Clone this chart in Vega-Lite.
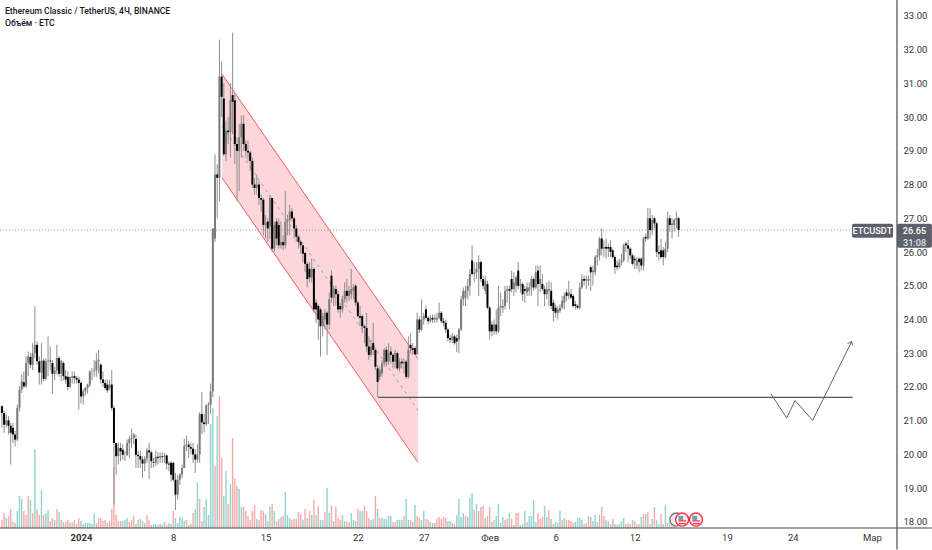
{"$schema":"https://vega.github.io/schema/vega-lite/v6.json","width":897,"height":528,"padding":{"left":0,"top":0,"right":35,"bottom":22},"autosize":"none","background":"#ffffff","config":{"view":{"stroke":null},"font":"Roboto","axisY":{"grid":false,"ticks":false,"domain":false,"labelColor":"#333333","labelFontSize":9.5,"labelPadding":6,"labelOverlap":false,"title":null}},
"datasets":{
"candles":[
{"t":-36,"o":21.43,"h":21.45,"l":20.79,"c":21.23},{"t":-35,"o":21.23,"h":21.3,"l":20.64,"c":20.88},{"t":-34,"o":20.88,"h":21.18,"l":20.79,"c":21.01},{"t":-33,"o":21.01,"h":21.13,"l":20.59,"c":20.85},{"t":-32,"o":20.85,"h":20.93,"l":19.7,"c":20.64},{"t":-31,"o":20.79,"h":20.93,"l":20.34,"c":20.59},{"t":-30,"o":20.59,"h":20.7,"l":20.24,"c":20.44},{"t":-29,"o":20.44,"h":21.48,"l":20.39,"c":21.38},{"t":-28,"o":21.38,"h":22.02,"l":21.28,"c":21.92},{"t":-27,"o":21.92,"h":22.37,"l":21.82,"c":22.17},{"t":-26,"o":22.14,"h":22.46,"l":21.97,"c":22.02},{"t":-25,"o":22.02,"h":22.91,"l":21.97,"c":22.71},{"t":-24,"o":22.71,"h":23.05,"l":22.32,"c":22.91},{"t":-23,"o":22.89,"h":23.0,"l":22.56,"c":22.66},{"t":-22,"o":22.66,"h":23.3,"l":22.5,"c":23.0},{"t":-21,"o":23.0,"h":24.39,"l":22.85,"c":23.25},{"t":-20,"o":23.25,"h":23.35,"l":22.66,"c":22.76},{"t":-19,"o":22.76,"h":22.91,"l":22.07,"c":22.43},{"t":-18,"o":22.43,"h":23.3,"l":22.07,"c":22.78},{"t":-17,"o":22.78,"h":22.85,"l":22.17,"c":22.24},{"t":-16,"o":22.24,"h":22.85,"l":22.2,"c":22.76},{"t":-15,"o":22.76,"h":23.5,"l":22.32,"c":22.78},{"t":-14,"o":22.78,"h":23.2,"l":22.5,"c":22.76},{"t":-13,"o":22.71,"h":22.8,"l":21.8,"c":22.39},{"t":-12,"o":22.39,"h":22.6,"l":22.2,"c":22.49},{"t":-11,"o":22.49,"h":23.25,"l":22.37,"c":22.86},{"t":-10,"o":22.86,"h":22.91,"l":22.3,"c":22.39},{"t":-9,"o":22.39,"h":22.8,"l":22.17,"c":22.76},{"t":-8,"o":22.71,"h":22.76,"l":22.2,"c":22.32},{"t":-7,"o":22.32,"h":22.5,"l":22.1,"c":22.22},{"t":-6,"o":22.3,"h":22.46,"l":21.9,"c":22.0},{"t":-5,"o":22.0,"h":22.3,"l":21.97,"c":22.3},{"t":-4,"o":22.27,"h":22.46,"l":22.1,"c":22.32},{"t":-3,"o":22.32,"h":22.45,"l":22.1,"c":22.27},{"t":-2,"o":22.27,"h":22.33,"l":22.1,"c":22.22},{"t":-1,"o":22.22,"h":22.3,"l":21.33,"c":22.12},{"t":0,"o":22.12,"h":22.17,"l":21.51,"c":21.72},{"t":1,"o":21.72,"h":21.95,"l":21.48,"c":21.87},{"t":2,"o":21.87,"h":22.0,"l":21.75,"c":21.97},{"t":3,"o":21.97,"h":22.1,"l":21.8,"c":22.07},{"t":4,"o":22.07,"h":22.5,"l":22.0,"c":22.46},{"t":5,"o":22.46,"h":22.56,"l":22.2,"c":22.46},{"t":6,"o":22.46,"h":22.8,"l":22.3,"c":22.49},{"t":7,"o":22.49,"h":23.0,"l":22.3,"c":22.76},{"t":8,"o":22.76,"h":23.1,"l":22.4,"c":22.81},{"t":9,"o":22.66,"h":22.71,"l":22.1,"c":22.22},{"t":10,"o":22.22,"h":22.46,"l":22.0,"c":22.12},{"t":11,"o":22.12,"h":22.22,"l":21.9,"c":21.97},{"t":12,"o":22.07,"h":22.22,"l":21.82,"c":21.9},{"t":13,"o":21.97,"h":22.22,"l":21.9,"c":22.07},{"t":14,"o":22.07,"h":22.5,"l":21.3,"c":21.38},{"t":15,"o":21.38,"h":21.45,"l":18.51,"c":20.34},{"t":16,"o":20.34,"h":20.34,"l":19.4,"c":19.95},{"t":17,"o":19.95,"h":20.34,"l":19.7,"c":20.19},{"t":18,"o":20.19,"h":20.34,"l":19.8,"c":20.09},{"t":19,"o":20.14,"h":20.3,"l":19.85,"c":19.99},{"t":20,"o":19.99,"h":20.1,"l":19.8,"c":19.99},{"t":21,"o":19.99,"h":20.44,"l":19.95,"c":20.34},{"t":22,"o":20.34,"h":20.56,"l":19.9,"c":20.46},{"t":23,"o":20.46,"h":20.76,"l":20.2,"c":20.49},{"t":24,"o":20.49,"h":20.64,"l":20.3,"c":20.59},{"t":25,"o":20.46,"h":20.59,"l":19.6,"c":19.99},{"t":26,"o":19.99,"h":20.1,"l":19.6,"c":19.95},{"t":27,"o":19.95,"h":20.1,"l":19.6,"c":19.85},{"t":28,"o":19.85,"h":19.95,"l":19.3,"c":19.73},{"t":29,"o":19.73,"h":19.95,"l":19.5,"c":19.87},{"t":30,"o":19.87,"h":20.19,"l":19.75,"c":20.12},{"t":31,"o":20.12,"h":20.34,"l":19.27,"c":20.06},{"t":32,"o":20.06,"h":20.1,"l":19.6,"c":19.8},{"t":33,"o":19.77,"h":19.9,"l":19.6,"c":19.75},{"t":34,"o":19.75,"h":20.12,"l":19.65,"c":19.93},{"t":35,"o":19.93,"h":20.07,"l":19.7,"c":19.9},{"t":36,"o":19.9,"h":20.06,"l":19.75,"c":19.95},{"t":37,"o":19.95,"h":20.07,"l":19.75,"c":19.93},{"t":38,"o":19.93,"h":20.05,"l":19.75,"c":19.97},{"t":39,"o":19.97,"h":20.0,"l":19.55,"c":19.73},{"t":40,"o":19.73,"h":19.8,"l":19.5,"c":19.7},{"t":41,"o":19.75,"h":19.8,"l":19.2,"c":19.4},{"t":42,"o":19.75,"h":19.78,"l":19.2,"c":19.25},{"t":43,"o":19.25,"h":19.45,"l":18.35,"c":18.81},{"t":44,"o":18.81,"h":19.4,"l":18.66,"c":19.25},{"t":45,"o":19.25,"h":19.45,"l":19.1,"c":19.4},{"t":46,"o":19.4,"h":19.7,"l":19.3,"c":19.6},{"t":47,"o":19.6,"h":20.46,"l":19.6,"c":20.26},{"t":48,"o":20.26,"h":20.56,"l":20.1,"c":20.29},{"t":49,"o":20.29,"h":20.4,"l":19.9,"c":20.22},{"t":50,"o":20.22,"h":20.35,"l":20.0,"c":20.17},{"t":51,"o":20.17,"h":20.34,"l":19.75,"c":20.0},{"t":52,"o":20.0,"h":20.15,"l":19.45,"c":19.85},{"t":53,"o":19.85,"h":20.3,"l":19.75,"c":20.0},{"t":54,"o":20.0,"h":21.25,"l":19.75,"c":21.2},{"t":55,"o":21.2,"h":21.85,"l":20.6,"c":20.95},{"t":56,"o":20.95,"h":21.2,"l":20.65,"c":20.9},{"t":57,"o":20.9,"h":21.5,"l":20.85,"c":21.45},{"t":58,"o":21.45,"h":21.55,"l":20.9,"c":21.47},{"t":59,"o":21.47,"h":22.1,"l":21.2,"c":21.87},{"t":60,"o":21.87,"h":26.7,"l":21.7,"c":26.7},{"t":61,"o":26.4,"h":28.9,"l":26.3,"c":28.3},{"t":62,"o":28.3,"h":28.6,"l":27.0,"c":28.2},{"t":63,"o":28.2,"h":32.3,"l":27.5,"c":31.2},{"t":64,"o":31.2,"h":31.65,"l":30.0,"c":30.6},{"t":65,"o":30.55,"h":31.0,"l":28.85,"c":28.9},{"t":66,"o":28.9,"h":29.9,"l":28.7,"c":29.6},{"t":67,"o":29.6,"h":30.0,"l":29.2,"c":29.55},{"t":68,"o":29.55,"h":31.0,"l":28.8,"c":30.5},{"t":69,"o":30.65,"h":32.5,"l":29.5,"c":30.45},{"t":70,"o":30.5,"h":30.7,"l":28.6,"c":29.2},{"t":71,"o":29.2,"h":29.4,"l":27.5,"c":29.0},{"t":72,"o":29.0,"h":29.8,"l":27.8,"c":29.4},{"t":73,"o":29.4,"h":30.05,"l":28.8,"c":29.8},{"t":74,"o":29.8,"h":30.05,"l":29.0,"c":29.2},{"t":75,"o":29.2,"h":29.3,"l":28.8,"c":29.0},{"t":76,"o":29.0,"h":29.3,"l":28.7,"c":28.95},{"t":77,"o":28.95,"h":29.0,"l":28.4,"c":28.7},{"t":78,"o":28.7,"h":28.8,"l":27.9,"c":28.0},{"t":79,"o":28.0,"h":28.2,"l":27.7,"c":27.9},{"t":80,"o":27.9,"h":28.3,"l":27.7,"c":28.0},{"t":81,"o":28.0,"h":28.1,"l":27.4,"c":27.6},{"t":82,"o":27.6,"h":27.7,"l":27.2,"c":27.55},{"t":83,"o":27.55,"h":27.6,"l":26.5,"c":26.8},{"t":84,"o":26.8,"h":27.1,"l":26.4,"c":26.85},{"t":85,"o":26.9,"h":27.0,"l":26.3,"c":26.7},{"t":86,"o":26.75,"h":27.7,"l":26.4,"c":27.6},{"t":87,"o":27.6,"h":27.6,"l":26.0,"c":26.1},{"t":88,"o":26.1,"h":26.9,"l":26.0,"c":26.8},{"t":89,"o":26.9,"h":27.0,"l":26.2,"c":26.4},{"t":90,"o":26.8,"h":27.0,"l":26.1,"c":26.2},{"t":91,"o":26.2,"h":26.9,"l":26.1,"c":26.3},{"t":92,"o":26.3,"h":26.5,"l":26.05,"c":26.2},{"t":93,"o":26.2,"h":27.8,"l":26.1,"c":26.9},{"t":94,"o":26.9,"h":27.1,"l":26.5,"c":26.95},{"t":95,"o":26.95,"h":27.4,"l":26.5,"c":27.2},{"t":96,"o":27.2,"h":27.3,"l":26.9,"c":27.0},{"t":97,"o":27.0,"h":27.05,"l":26.4,"c":26.7},{"t":98,"o":26.7,"h":26.8,"l":26.3,"c":26.45},{"t":99,"o":26.45,"h":26.5,"l":26.1,"c":26.3},{"t":100,"o":26.3,"h":26.35,"l":25.95,"c":26.2},{"t":101,"o":26.2,"h":26.2,"l":25.7,"c":25.95},{"t":102,"o":25.97,"h":26.0,"l":25.4,"c":25.65},{"t":103,"o":25.65,"h":25.7,"l":24.95,"c":25.2},{"t":104,"o":25.5,"h":25.7,"l":25.1,"c":25.25},{"t":105,"o":25.25,"h":25.8,"l":25.1,"c":25.5},{"t":106,"o":25.5,"h":25.55,"l":24.2,"c":24.3},{"t":107,"o":24.5,"h":24.6,"l":23.9,"c":24.3},{"t":108,"o":24.4,"h":24.45,"l":23.4,"c":24.0},{"t":109,"o":24.3,"h":24.35,"l":22.9,"c":23.8},{"t":110,"o":23.8,"h":24.2,"l":23.5,"c":24.1},{"t":111,"o":24.0,"h":24.3,"l":23.7,"c":24.2},{"t":112,"o":24.2,"h":24.25,"l":22.95,"c":23.85},{"t":113,"o":23.85,"h":24.8,"l":23.7,"c":24.6},{"t":114,"o":25.3,"h":25.45,"l":24.5,"c":24.65},{"t":115,"o":24.65,"h":25.0,"l":24.4,"c":24.9},{"t":116,"o":24.9,"h":25.0,"l":24.4,"c":24.75},{"t":117,"o":24.75,"h":24.85,"l":24.2,"c":24.3},{"t":118,"o":24.4,"h":24.5,"l":24.05,"c":24.3},{"t":119,"o":24.3,"h":24.7,"l":24.2,"c":24.6},{"t":120,"o":24.6,"h":25.1,"l":24.5,"c":24.85},{"t":121,"o":24.85,"h":25.2,"l":24.5,"c":24.7},{"t":122,"o":24.7,"h":25.0,"l":24.55,"c":24.85},{"t":123,"o":24.75,"h":25.5,"l":24.6,"c":24.9},{"t":124,"o":24.85,"h":25.05,"l":24.6,"c":24.95},{"t":125,"o":25.0,"h":25.05,"l":24.4,"c":24.5},{"t":126,"o":24.5,"h":24.55,"l":24.05,"c":24.1},{"t":127,"o":24.1,"h":24.4,"l":23.8,"c":24.05},{"t":128,"o":24.1,"h":24.15,"l":23.6,"c":23.8},{"t":129,"o":23.8,"h":23.85,"l":23.3,"c":23.75},{"t":130,"o":23.75,"h":24.2,"l":23.05,"c":23.2},{"t":131,"o":23.2,"h":23.5,"l":22.8,"c":22.95},{"t":132,"o":22.95,"h":23.4,"l":22.9,"c":23.2},{"t":133,"o":23.3,"h":23.9,"l":22.95,"c":23.1},{"t":134,"o":23.1,"h":23.15,"l":22.5,"c":22.6},{"t":135,"o":22.55,"h":22.65,"l":21.7,"c":22.15},{"t":136,"o":22.3,"h":22.6,"l":22.2,"c":22.5},{"t":137,"o":22.4,"h":22.8,"l":22.3,"c":22.7},{"t":138,"o":22.7,"h":23.15,"l":22.6,"c":23.1},{"t":139,"o":23.1,"h":23.2,"l":22.6,"c":22.75},{"t":140,"o":22.75,"h":23.3,"l":22.65,"c":23.0},{"t":141,"o":23.05,"h":23.2,"l":22.7,"c":22.95},{"t":142,"o":22.95,"h":23.0,"l":22.55,"c":22.75},{"t":143,"o":22.75,"h":23.1,"l":22.55,"c":23.0},{"t":144,"o":23.0,"h":23.05,"l":22.5,"c":22.55},{"t":145,"o":22.55,"h":22.85,"l":22.45,"c":22.75},{"t":146,"o":22.75,"h":22.85,"l":22.55,"c":22.7},{"t":147,"o":22.7,"h":22.85,"l":22.4,"c":22.75},{"t":148,"o":22.75,"h":22.8,"l":22.25,"c":22.3},{"t":149,"o":22.3,"h":23.5,"l":22.25,"c":23.1},{"t":150,"o":23.25,"h":23.6,"l":23.0,"c":23.15},{"t":151,"o":23.15,"h":23.3,"l":22.95,"c":23.1},{"t":152,"o":23.15,"h":23.2,"l":22.95,"c":22.97},{"t":153,"o":22.97,"h":24.2,"l":22.95,"c":24.0},{"t":154,"o":24.0,"h":24.1,"l":23.6,"c":23.7},{"t":155,"o":23.7,"h":24.6,"l":23.65,"c":24.0},{"t":156,"o":24.0,"h":24.2,"l":23.85,"c":24.1},{"t":157,"o":24.3,"h":24.4,"l":24.0,"c":24.05},{"t":158,"o":24.05,"h":24.1,"l":23.85,"c":23.95},{"t":159,"o":23.95,"h":24.15,"l":23.9,"c":24.05},{"t":160,"o":24.05,"h":24.15,"l":23.9,"c":24.0},{"t":161,"o":24.0,"h":24.15,"l":23.9,"c":24.05},{"t":162,"o":24.0,"h":24.2,"l":23.9,"c":24.05},{"t":163,"o":24.05,"h":24.5,"l":24.0,"c":24.2},{"t":164,"o":24.2,"h":24.25,"l":23.9,"c":23.95},{"t":165,"o":23.95,"h":24.05,"l":23.8,"c":23.9},{"t":166,"o":23.9,"h":24.0,"l":23.6,"c":23.7},{"t":167,"o":23.7,"h":23.75,"l":23.35,"c":23.45},{"t":168,"o":23.45,"h":23.55,"l":23.3,"c":23.4},{"t":169,"o":23.4,"h":23.6,"l":23.3,"c":23.5},{"t":170,"o":23.5,"h":23.55,"l":23.25,"c":23.3},{"t":171,"o":23.45,"h":23.55,"l":23.03,"c":23.35},{"t":172,"o":23.4,"h":23.75,"l":23.0,"c":23.7},{"t":173,"o":23.7,"h":24.7,"l":23.65,"c":24.6},{"t":174,"o":24.6,"h":24.95,"l":24.4,"c":24.85},{"t":175,"o":24.65,"h":25.0,"l":24.4,"c":24.85},{"t":176,"o":24.85,"h":25.2,"l":24.6,"c":25.0},{"t":177,"o":25.0,"h":25.5,"l":24.7,"c":25.35},{"t":178,"o":25.75,"h":26.2,"l":25.3,"c":25.35},{"t":179,"o":25.35,"h":25.7,"l":25.1,"c":25.4},{"t":180,"o":25.4,"h":25.7,"l":25.2,"c":25.5},{"t":181,"o":25.5,"h":25.9,"l":24.7,"c":25.7},{"t":182,"o":25.7,"h":25.75,"l":25.1,"c":25.2},{"t":183,"o":25.2,"h":25.3,"l":24.9,"c":25.0},{"t":184,"o":24.85,"h":25.3,"l":24.75,"c":25.15},{"t":185,"o":25.05,"h":25.15,"l":24.3,"c":24.35},{"t":186,"o":24.35,"h":24.4,"l":23.4,"c":23.65},{"t":187,"o":23.85,"h":23.95,"l":23.5,"c":23.65},{"t":188,"o":23.65,"h":24.0,"l":23.55,"c":23.85},{"t":189,"o":23.85,"h":24.3,"l":23.55,"c":23.65},{"t":190,"o":23.65,"h":25.0,"l":23.6,"c":24.35},{"t":191,"o":24.35,"h":24.8,"l":24.1,"c":24.4},{"t":192,"o":24.35,"h":24.6,"l":24.2,"c":24.4},{"t":193,"o":24.4,"h":25.0,"l":24.3,"c":24.85},{"t":194,"o":24.85,"h":25.0,"l":24.5,"c":24.9},{"t":195,"o":24.9,"h":25.0,"l":24.3,"c":24.85},{"t":196,"o":25.2,"h":25.45,"l":24.8,"c":24.9},{"t":197,"o":24.9,"h":25.4,"l":24.7,"c":25.1},{"t":198,"o":25.0,"h":25.3,"l":24.8,"c":25.25},{"t":199,"o":25.45,"h":25.7,"l":24.9,"c":25.0},{"t":200,"o":25.0,"h":25.2,"l":24.8,"c":25.05},{"t":201,"o":25.05,"h":25.1,"l":24.55,"c":24.75},{"t":202,"o":24.9,"h":25.0,"l":24.5,"c":24.85},{"t":203,"o":24.8,"h":25.1,"l":24.7,"c":24.95},{"t":204,"o":24.85,"h":25.1,"l":24.7,"c":24.95},{"t":205,"o":24.95,"h":25.3,"l":24.7,"c":25.2},{"t":206,"o":25.2,"h":25.25,"l":24.85,"c":24.95},{"t":207,"o":24.95,"h":25.6,"l":24.9,"c":25.4},{"t":208,"o":25.45,"h":25.6,"l":24.4,"c":25.05},{"t":209,"o":25.05,"h":25.6,"l":24.8,"c":25.2},{"t":210,"o":25.05,"h":25.35,"l":24.85,"c":24.9},{"t":211,"o":24.9,"h":25.0,"l":24.4,"c":24.75},{"t":212,"o":24.75,"h":25.1,"l":24.6,"c":24.9},{"t":213,"o":24.85,"h":25.15,"l":24.4,"c":24.9},{"t":214,"o":24.85,"h":25.1,"l":24.3,"c":24.4},{"t":215,"o":24.5,"h":24.6,"l":23.95,"c":24.25},{"t":216,"o":24.35,"h":24.45,"l":24.05,"c":24.2},{"t":217,"o":24.2,"h":24.4,"l":24.0,"c":24.3},{"t":218,"o":24.25,"h":24.45,"l":24.2,"c":24.35},{"t":219,"o":24.35,"h":24.7,"l":24.3,"c":24.55},{"t":220,"o":24.5,"h":24.8,"l":24.3,"c":24.7},{"t":221,"o":24.8,"h":24.9,"l":24.55,"c":24.7},{"t":222,"o":24.7,"h":25.15,"l":24.6,"c":24.8},{"t":223,"o":24.75,"h":24.9,"l":24.6,"c":24.65},{"t":224,"o":24.7,"h":24.75,"l":24.35,"c":24.4},{"t":225,"o":24.45,"h":24.55,"l":24.3,"c":24.4},{"t":226,"o":24.4,"h":24.45,"l":24.3,"c":24.35},{"t":227,"o":24.35,"h":25.1,"l":24.3,"c":24.95},{"t":228,"o":24.95,"h":25.35,"l":24.9,"c":25.2},{"t":229,"o":25.2,"h":25.3,"l":25.0,"c":25.15},{"t":230,"o":25.15,"h":25.3,"l":24.9,"c":25.2},{"t":231,"o":25.15,"h":25.3,"l":25.0,"c":25.2},{"t":232,"o":25.55,"h":25.6,"l":24.85,"c":25.4},{"t":233,"o":25.4,"h":25.6,"l":25.0,"c":25.45},{"t":234,"o":25.4,"h":25.9,"l":25.3,"c":25.85},{"t":235,"o":25.85,"h":26.1,"l":25.6,"c":25.9},{"t":236,"o":25.9,"h":26.45,"l":25.75,"c":26.4},{"t":237,"o":26.4,"h":26.7,"l":25.9,"c":26.1},{"t":238,"o":26.1,"h":26.35,"l":25.85,"c":26.15},{"t":239,"o":26.15,"h":26.4,"l":25.8,"c":26.1},{"t":240,"o":26.15,"h":26.25,"l":25.85,"c":26.1},{"t":241,"o":26.15,"h":26.35,"l":25.85,"c":26.0},{"t":242,"o":26.05,"h":26.1,"l":25.8,"c":25.85},{"t":243,"o":25.85,"h":25.9,"l":25.35,"c":25.55},{"t":244,"o":25.6,"h":25.75,"l":25.45,"c":25.55},{"t":245,"o":25.55,"h":25.8,"l":25.5,"c":25.7},{"t":246,"o":25.7,"h":25.95,"l":25.6,"c":25.75},{"t":247,"o":25.75,"h":26.25,"l":25.7,"c":26.2},{"t":248,"o":26.25,"h":26.3,"l":26.0,"c":26.2},{"t":249,"o":26.2,"h":26.35,"l":25.7,"c":26.1},{"t":250,"o":26.1,"h":26.15,"l":25.8,"c":25.9},{"t":251,"o":25.9,"h":25.95,"l":25.6,"c":25.65},{"t":252,"o":25.8,"h":25.9,"l":25.5,"c":25.75},{"t":253,"o":25.6,"h":25.85,"l":25.5,"c":25.75},{"t":254,"o":25.8,"h":25.85,"l":25.4,"c":25.7},{"t":255,"o":25.8,"h":25.85,"l":25.45,"c":25.6},{"t":256,"o":25.6,"h":26.45,"l":25.45,"c":26.4},{"t":257,"o":26.45,"h":26.55,"l":26.3,"c":26.4},{"t":258,"o":26.4,"h":27.3,"l":26.35,"c":27.0},{"t":259,"o":27.0,"h":27.3,"l":26.4,"c":26.65},{"t":260,"o":26.65,"h":27.1,"l":26.5,"c":26.95},{"t":261,"o":27.0,"h":27.05,"l":26.7,"c":26.85},{"t":262,"o":26.85,"h":26.9,"l":25.85,"c":26.0},{"t":263,"o":26.0,"h":26.2,"l":25.75,"c":25.95},{"t":264,"o":26.05,"h":26.4,"l":25.8,"c":25.85},{"t":265,"o":26.05,"h":26.15,"l":25.6,"c":25.85},{"t":266,"o":25.85,"h":26.3,"l":25.8,"c":26.1},{"t":267,"o":26.1,"h":27.2,"l":26.0,"c":27.0},{"t":268,"o":27.0,"h":27.1,"l":26.6,"c":26.8},{"t":269,"o":26.8,"h":27.0,"l":26.4,"c":26.85},{"t":270,"o":26.8,"h":27.0,"l":26.6,"c":26.95},{"t":271,"o":26.95,"h":27.2,"l":26.7,"c":27.0},{"t":272,"o":27.0,"h":27.05,"l":26.45,"c":26.65}],
"volume":[
{"t":-36,"v":8,"s":"d"},{"t":-35,"v":15,"s":"d"},{"t":-34,"v":10,"s":"u"},{"t":-33,"v":12,"s":"d"},{"t":-32,"v":19,"s":"d"},{"t":-31,"v":6,"s":"u"},{"t":-30,"v":5,"s":"d"},{"t":-29,"v":17,"s":"u"},{"t":-28,"v":32,"s":"u"},{"t":-27,"v":29,"s":"u"},{"t":-26,"v":17,"s":"d"},{"t":-25,"v":13,"s":"d"},{"t":-24,"v":32,"s":"d"},{"t":-23,"v":28,"s":"u"},{"t":-22,"v":15,"s":"d"},{"t":-21,"v":79,"s":"u"},{"t":-20,"v":19,"s":"d"},{"t":-19,"v":13,"s":"d"},{"t":-18,"v":38,"s":"u"},{"t":-17,"v":13,"s":"d"},{"t":-16,"v":15,"s":"u"},{"t":-15,"v":18,"s":"u"},{"t":-14,"v":7,"s":"d"},{"t":-13,"v":10,"s":"d"},{"t":-12,"v":8,"s":"u"},{"t":-11,"v":19,"s":"d"},{"t":-10,"v":16,"s":"u"},{"t":-9,"v":8,"s":"d"},{"t":-8,"v":6,"s":"u"},{"t":-7,"v":6,"s":"d"},{"t":-6,"v":8,"s":"d"},{"t":-5,"v":5,"s":"u"},{"t":-4,"v":6,"s":"d"},{"t":-3,"v":8,"s":"d"},{"t":-2,"v":4,"s":"u"},{"t":-1,"v":10,"s":"d"},{"t":0,"v":7,"s":"u"},{"t":1,"v":4,"s":"d"},{"t":2,"v":5,"s":"u"},{"t":3,"v":5,"s":"u"},{"t":4,"v":5,"s":"u"},{"t":5,"v":4,"s":"u"},{"t":6,"v":15,"s":"u"},{"t":7,"v":5,"s":"d"},{"t":8,"v":10,"s":"d"},{"t":9,"v":10,"s":"d"},{"t":10,"v":7,"s":"d"},{"t":11,"v":8,"s":"d"},{"t":12,"v":5,"s":"u"},{"t":13,"v":7,"s":"d"},{"t":14,"v":19,"s":"d"},{"t":15,"v":61,"s":"d"},{"t":16,"v":13,"s":"d"},{"t":17,"v":7,"s":"d"},{"t":18,"v":7,"s":"u"},{"t":19,"v":7,"s":"d"},{"t":20,"v":8,"s":"u"},{"t":21,"v":10,"s":"u"},{"t":22,"v":6,"s":"d"},{"t":23,"v":8,"s":"d"},{"t":24,"v":12,"s":"d"},{"t":25,"v":4,"s":"u"},{"t":26,"v":8,"s":"u"},{"t":27,"v":9,"s":"d"},{"t":28,"v":7,"s":"u"},{"t":29,"v":5,"s":"u"},{"t":30,"v":13,"s":"d"},{"t":31,"v":8,"s":"d"},{"t":32,"v":3,"s":"d"},{"t":33,"v":4,"s":"u"},{"t":34,"v":4,"s":"u"},{"t":35,"v":3,"s":"d"},{"t":36,"v":4,"s":"u"},{"t":37,"v":3,"s":"u"},{"t":38,"v":6,"s":"d"},{"t":39,"v":3,"s":"d"},{"t":40,"v":5,"s":"u"},{"t":41,"v":4,"s":"u"},{"t":42,"v":17,"s":"d"},{"t":43,"v":10,"s":"u"},{"t":44,"v":5,"s":"u"},{"t":45,"v":11,"s":"u"},{"t":46,"v":10,"s":"u"},{"t":47,"v":7,"s":"u"},{"t":48,"v":8,"s":"d"},{"t":49,"v":3,"s":"u"},{"t":50,"v":4,"s":"d"},{"t":51,"v":15,"s":"d"},{"t":52,"v":19,"s":"u"},{"t":53,"v":45,"s":"u"},{"t":54,"v":29,"s":"d"},{"t":55,"v":7,"s":"d"},{"t":56,"v":21,"s":"u"},{"t":57,"v":29,"s":"u"},{"t":58,"v":13,"s":"u"},{"t":59,"v":104,"s":"u"},{"t":60,"v":120,"s":"u"},{"t":61,"v":62,"s":"d"},{"t":62,"v":112,"s":"u"},{"t":63,"v":132,"s":"d"},{"t":64,"v":70,"s":"d"},{"t":65,"v":32,"s":"u"},{"t":66,"v":57,"s":"u"},{"t":67,"v":24,"s":"d"},{"t":68,"v":44,"s":"u"},{"t":69,"v":90,"s":"d"},{"t":70,"v":50,"s":"d"},{"t":71,"v":42,"s":"d"},{"t":72,"v":39,"s":"u"},{"t":73,"v":21,"s":"u"},{"t":74,"v":21,"s":"d"},{"t":75,"v":17,"s":"d"},{"t":76,"v":12,"s":"d"},{"t":77,"v":8,"s":"d"},{"t":78,"v":17,"s":"d"},{"t":79,"v":23,"s":"d"},{"t":80,"v":9,"s":"u"},{"t":81,"v":8,"s":"d"},{"t":82,"v":18,"s":"d"},{"t":83,"v":17,"s":"d"},{"t":84,"v":14,"s":"u"},{"t":85,"v":7,"s":"d"},{"t":86,"v":21,"s":"u"},{"t":87,"v":24,"s":"d"},{"t":88,"v":17,"s":"u"},{"t":89,"v":7,"s":"d"},{"t":90,"v":9,"s":"d"},{"t":91,"v":11,"s":"u"},{"t":92,"v":12,"s":"d"},{"t":93,"v":36,"s":"u"},{"t":94,"v":13,"s":"u"},{"t":95,"v":10,"s":"u"},{"t":96,"v":8,"s":"d"},{"t":97,"v":9,"s":"d"},{"t":98,"v":9,"s":"d"},{"t":99,"v":16,"s":"d"},{"t":100,"v":14,"s":"d"},{"t":101,"v":8,"s":"u"},{"t":102,"v":19,"s":"d"},{"t":103,"v":10,"s":"u"},{"t":104,"v":17,"s":"d"},{"t":105,"v":13,"s":"u"},{"t":106,"v":28,"s":"d"},{"t":107,"v":13,"s":"u"},{"t":108,"v":22,"s":"d"},{"t":109,"v":8,"s":"u"},{"t":110,"v":8,"s":"u"},{"t":111,"v":16,"s":"d"},{"t":112,"v":40,"s":"u"},{"t":113,"v":15,"s":"u"},{"t":114,"v":22,"s":"d"},{"t":115,"v":7,"s":"u"},{"t":116,"v":21,"s":"d"},{"t":117,"v":10,"s":"d"},{"t":118,"v":8,"s":"d"},{"t":119,"v":13,"s":"u"},{"t":120,"v":7,"s":"u"},{"t":121,"v":6,"s":"d"},{"t":122,"v":6,"s":"d"},{"t":123,"v":15,"s":"u"},{"t":124,"v":8,"s":"u"},{"t":125,"v":7,"s":"u"},{"t":126,"v":19,"s":"d"},{"t":127,"v":17,"s":"u"},{"t":128,"v":17,"s":"u"},{"t":129,"v":22,"s":"d"},{"t":130,"v":17,"s":"d"},{"t":131,"v":10,"s":"d"},{"t":132,"v":8,"s":"u"},{"t":133,"v":9,"s":"u"},{"t":134,"v":32,"s":"d"},{"t":135,"v":19,"s":"u"},{"t":136,"v":10,"s":"d"},{"t":137,"v":10,"s":"u"},{"t":138,"v":9,"s":"u"},{"t":139,"v":9,"s":"u"},{"t":140,"v":12,"s":"u"},{"t":141,"v":12,"s":"u"},{"t":142,"v":6,"s":"d"},{"t":143,"v":6,"s":"d"},{"t":144,"v":8,"s":"u"},{"t":145,"v":8,"s":"u"},{"t":146,"v":8,"s":"u"},{"t":147,"v":12,"s":"d"},{"t":148,"v":29,"s":"u"},{"t":149,"v":8,"s":"u"},{"t":150,"v":8,"s":"d"},{"t":151,"v":6,"s":"d"},{"t":152,"v":23,"s":"u"},{"t":153,"v":12,"s":"d"},{"t":154,"v":10,"s":"d"},{"t":155,"v":8,"s":"u"},{"t":156,"v":17,"s":"u"},{"t":157,"v":9,"s":"d"},{"t":158,"v":8,"s":"d"},{"t":159,"v":6,"s":"u"},{"t":160,"v":5,"s":"d"},{"t":161,"v":5,"s":"u"},{"t":162,"v":9,"s":"d"},{"t":163,"v":11,"s":"d"},{"t":164,"v":9,"s":"d"},{"t":165,"v":11,"s":"d"},{"t":166,"v":10,"s":"d"},{"t":167,"v":7,"s":"u"},{"t":168,"v":7,"s":"u"},{"t":169,"v":5,"s":"d"},{"t":170,"v":4,"s":"d"},{"t":171,"v":13,"s":"u"},{"t":172,"v":29,"s":"u"},{"t":173,"v":11,"s":"u"},{"t":174,"v":15,"s":"u"},{"t":175,"v":12,"s":"d"},{"t":176,"v":11,"s":"u"},{"t":177,"v":30,"s":"u"},{"t":178,"v":35,"s":"u"},{"t":179,"v":18,"s":"d"},{"t":180,"v":24,"s":"u"},{"t":181,"v":17,"s":"d"},{"t":182,"v":21,"s":"d"},{"t":183,"v":22,"s":"d"},{"t":184,"v":10,"s":"u"},{"t":185,"v":12,"s":"d"},{"t":186,"v":21,"s":"d"},{"t":187,"v":6,"s":"u"},{"t":188,"v":8,"s":"d"},{"t":189,"v":12,"s":"u"},{"t":190,"v":24,"s":"u"},{"t":191,"v":5,"s":"u"},{"t":192,"v":11,"s":"u"},{"t":193,"v":8,"s":"d"},{"t":194,"v":9,"s":"d"},{"t":195,"v":15,"s":"u"},{"t":196,"v":9,"s":"d"},{"t":197,"v":3,"s":"u"},{"t":198,"v":15,"s":"d"},{"t":199,"v":15,"s":"d"},{"t":200,"v":3,"s":"u"},{"t":201,"v":4,"s":"u"},{"t":202,"v":17,"s":"u"},{"t":203,"v":6,"s":"d"},{"t":204,"v":12,"s":"u"},{"t":205,"v":12,"s":"u"},{"t":206,"v":28,"s":"u"},{"t":207,"v":6,"s":"u"},{"t":208,"v":15,"s":"d"},{"t":209,"v":9,"s":"d"},{"t":210,"v":11,"s":"d"},{"t":211,"v":22,"s":"u"},{"t":212,"v":11,"s":"u"},{"t":213,"v":18,"s":"d"},{"t":214,"v":9,"s":"u"},{"t":215,"v":4,"s":"d"},{"t":216,"v":6,"s":"u"},{"t":217,"v":5,"s":"u"},{"t":218,"v":17,"s":"u"},{"t":219,"v":8,"s":"d"},{"t":220,"v":10,"s":"u"},{"t":221,"v":8,"s":"d"},{"t":222,"v":8,"s":"d"},{"t":223,"v":7,"s":"d"},{"t":224,"v":5,"s":"d"},{"t":225,"v":6,"s":"u"},{"t":226,"v":10,"s":"u"},{"t":227,"v":10,"s":"u"},{"t":228,"v":8,"s":"u"},{"t":229,"v":4,"s":"d"},{"t":230,"v":5,"s":"d"},{"t":231,"v":12,"s":"u"},{"t":232,"v":11,"s":"d"},{"t":233,"v":7,"s":"u"},{"t":234,"v":13,"s":"u"},{"t":235,"v":6,"s":"d"},{"t":236,"v":13,"s":"u"},{"t":237,"v":21,"s":"d"},{"t":238,"v":12,"s":"d"},{"t":239,"v":8,"s":"u"},{"t":240,"v":7,"s":"u"},{"t":241,"v":4,"s":"d"},{"t":242,"v":9,"s":"d"},{"t":243,"v":4,"s":"u"},{"t":244,"v":3,"s":"u"},{"t":245,"v":4,"s":"u"},{"t":246,"v":7,"s":"u"},{"t":247,"v":10,"s":"u"},{"t":248,"v":4,"s":"d"},{"t":249,"v":5,"s":"d"},{"t":250,"v":4,"s":"d"},{"t":251,"v":8,"s":"u"},{"t":252,"v":7,"s":"d"},{"t":253,"v":4,"s":"u"},{"t":254,"v":4,"s":"d"},{"t":255,"v":11,"s":"u"},{"t":256,"v":14,"s":"d"},{"t":257,"v":14,"s":"u"},{"t":258,"v":16,"s":"d"},{"t":259,"v":4,"s":"d"},{"t":260,"v":9,"s":"u"},{"t":261,"v":21,"s":"d"},{"t":262,"v":8,"s":"u"},{"t":263,"v":4,"s":"u"},{"t":264,"v":14,"s":"d"},{"t":265,"v":4,"s":"u"},{"t":266,"v":23,"s":"u"},{"t":267,"v":5,"s":"d"},{"t":268,"v":8,"s":"u"},{"t":269,"v":6,"s":"d"},{"t":270,"v":4,"s":"d"}],
"channel":[{"t":64.2,"top":31.27,"bottom":28.2,"mid":29.73},{"t":153.4,"top":22.84,"bottom":19.76,"mid":21.3}],
"pattern":[{"n":1,"t":314,"p":21.8,"g":"path"},{"n":2,"t":321.2,"p":21.08,"g":"path"},{"n":3,"t":325,"p":21.6,"g":"path"},{"n":4,"t":333,"p":21.01,"g":"path"},{"n":5,"t":350.8,"p":23.35,"g":"path"},{"n":1,"t":348.8,"p":23.28,"g":"head"},{"n":2,"t":350.8,"p":23.35,"g":"head"},{"n":3,"t":351.1,"p":23.23,"g":"head"}],
"frame":[{"t":-36.87,"t2":387.3,"p":17.82,"p2":17.82},{"t":371.4,"t2":371.4,"p":33.47,"p2":17.18}],
"boxes":[{"t":350.9,"t2":369.6,"p":26.84,"p2":26.42},{"t":371.4,"t2":387.3,"p":26.84,"p2":26.13}],
"titles":[{"t":-34.6,"p":33.15,"text":"Ethereum Classic / TetherUS, 4Ч, BINANCE"},{"t":-34.6,"p":32.8,"text":"Объём · ETC"}],
"priceTags":[{"t":360.2,"p":26.63,"text":"ETCUSDT","color":"#ffffff"},{"t":379.4,"p":26.63,"text":"26.65","color":"#ffffff"},{"t":379.4,"p":26.27,"text":"31:08","color":"#e0e3eb"}],
"events":[{"t":271,"p":18.07,"kind":"past"},{"t":273.6,"p":18.07,"kind":"next"},{"t":279.9,"p":18.07,"kind":"next"}],
"flagBlue":[{"t":273,"p":18.11},{"t":279.3,"p":18.11}],
"flagStripes":[{"t":272,"t2":275.4,"p":18.03},{"t":278.3,"t2":281.7,"p":18.03},{"t":272.2,"t2":275.2,"p":17.95},{"t":278.5,"t2":281.5,"p":17.95}]
},
"encoding":{"x":{"field":"t","type":"quantitative","scale":{"domain":[-36.87,371.4],"nice":false,"zero":false,"padding":0},"title":null,"axis":{"values":[0,42,84,126,156,186,216,252,294,324,360],"labelExpr":"{'0':'2024','42':'8','84':'15','126':'22','156':'27','186':'Фев','216':'6','252':'12','294':'19','324':'24','360':'Мар'}[datum.value]","labelFontWeight":{"condition":{"test":"datum.value===0","value":"bold"},"value":"normal"},"grid":false,"ticks":false,"domain":false,"labelColor":"#333333","labelFontSize":9.5,"labelPadding":4,"labelFlush":false,"labelOverlap":false}}},
"layer":[
{"data":{"name":"volume"},"mark":{"type":"bar","size":1.4,"opacity":0.5},"encoding":{"y":{"field":"v","type":"quantitative","scale":{"domain":[0,528],"nice":false},"axis":null},"color":{"field":"s","type":"nominal","scale":{"domain":["u","d"],"range":["#26a69a","#ef5350"]},"legend":null}}},
{"layer":[
{"data":{"name":"channel"},"mark":{"type":"area","color":"#f7525f","opacity":0.24},"encoding":{"y":{"field":"top","type":"quantitative","scale":{"domain":[17.82,33.47],"nice":false,"zero":false},"title":null,"axis":{"orient":"right","values":[18,19,20,21,22,23,24,25,26,27,28,29,30,31,32,33],"format":".2f"}},"y2":{"field":"bottom"}}},
{"data":{"name":"channel"},"mark":{"type":"line","color":"#f23645","strokeWidth":1,"opacity":0.8},"encoding":{"y":{"field":"top","type":"quantitative","title":null,"axis":{"orient":"right","values":[18,19,20,21,22,23,24,25,26,27,28,29,30,31,32,33],"format":".2f"}}}},
{"data":{"name":"channel"},"mark":{"type":"line","color":"#f23645","strokeWidth":1,"opacity":0.8},"encoding":{"y":{"field":"bottom","type":"quantitative","title":null,"axis":{"orient":"right","values":[18,19,20,21,22,23,24,25,26,27,28,29,30,31,32,33],"format":".2f"}}}},
{"data":{"name":"channel"},"mark":{"type":"line","color":"#7fa8c0","strokeWidth":1,"strokeDash":[3,4]},"encoding":{"y":{"field":"mid","type":"quantitative","title":null,"axis":{"orient":"right","values":[18,19,20,21,22,23,24,25,26,27,28,29,30,31,32,33],"format":".2f"}}}},
{"data":{"values":[{"t":-36.87,"t2":350.9,"p":26.65}]},"mark":{"type":"rule","color":"#9b9b9b","strokeWidth":1,"strokeDash":[1,2]},"encoding":{"x2":{"field":"t2"},"y":{"field":"p","type":"quantitative","title":null,"axis":{"orient":"right","values":[18,19,20,21,22,23,24,25,26,27,28,29,30,31,32,33],"format":".2f"}}}},
{"data":{"name":"candles"},"mark":{"type":"rule","color":"#8e8e8e","strokeWidth":1},"encoding":{"y":{"field":"l","type":"quantitative","title":null,"axis":{"orient":"right","values":[18,19,20,21,22,23,24,25,26,27,28,29,30,31,32,33],"format":".2f"}},"y2":{"field":"h"}}},
{"data":{"name":"candles"},"mark":{"type":"rule","strokeWidth":2},"encoding":{"y":{"field":"o","type":"quantitative","title":null,"axis":{"orient":"right","values":[18,19,20,21,22,23,24,25,26,27,28,29,30,31,32,33],"format":".2f"}},"y2":{"field":"c"},"color":{"condition":{"test":"datum.c<datum.o","value":"#000000"},"value":"#7a7a7a"}}},
{"data":{"values":[{"t":135.2,"t2":351.2,"p":21.69}]},"mark":{"type":"rule","color":"#555555","strokeWidth":1.3},"encoding":{"x2":{"field":"t2"},"y":{"field":"p","type":"quantitative","title":null,"axis":{"orient":"right","values":[18,19,20,21,22,23,24,25,26,27,28,29,30,31,32,33],"format":".2f"}}}},
{"data":{"name":"pattern"},"mark":{"type":"line","color":"#666666","strokeWidth":1},"encoding":{"y":{"field":"p","type":"quantitative","title":null,"axis":{"orient":"right","values":[18,19,20,21,22,23,24,25,26,27,28,29,30,31,32,33],"format":".2f"}},"order":{"field":"n"},"detail":{"field":"g"}}},
{"data":{"name":"frame"},"mark":{"type":"rule","color":"#4a4a4a","strokeWidth":1.2},"encoding":{"x2":{"field":"t2"},"y":{"field":"p","type":"quantitative","title":null,"axis":{"orient":"right","values":[18,19,20,21,22,23,24,25,26,27,28,29,30,31,32,33],"format":".2f"}},"y2":{"field":"p2"}}},
{"data":{"name":"boxes"},"mark":{"type":"rect","color":"#5d606b","cornerRadius":2},"encoding":{"x2":{"field":"t2"},"y":{"field":"p","type":"quantitative","title":null,"axis":{"orient":"right","values":[18,19,20,21,22,23,24,25,26,27,28,29,30,31,32,33],"format":".2f"}},"y2":{"field":"p2"}}},
{"data":{"name":"titles"},"mark":{"type":"text","baseline":"middle","align":"left","fontSize":8.6,"color":"#131722","fontWeight":500},"encoding":{"y":{"field":"p","type":"quantitative","title":null,"axis":{"orient":"right","values":[18,19,20,21,22,23,24,25,26,27,28,29,30,31,32,33],"format":".2f"}},"text":{"field":"text"}}},
{"data":{"name":"priceTags"},"mark":{"type":"text","baseline":"middle","align":"center","fontSize":9.2,"fontWeight":500},"encoding":{"y":{"field":"p","type":"quantitative","title":null,"axis":{"orient":"right","values":[18,19,20,21,22,23,24,25,26,27,28,29,30,31,32,33],"format":".2f"}},"text":{"field":"text"},"color":{"field":"color","type":"nominal","scale":null}}},
{"data":{"name":"events"},"mark":{"type":"point","shape":"circle","filled":true,"fill":"#fdecec","size":170,"strokeWidth":1.4,"opacity":1},"encoding":{"y":{"field":"p","type":"quantitative","title":null,"axis":{"orient":"right","values":[18,19,20,21,22,23,24,25,26,27,28,29,30,31,32,33],"format":".2f"}},"stroke":{"field":"kind","type":"nominal","scale":{"domain":["past","next"],"range":["#787b86","#f23645"]},"legend":null}}},
{"data":{"name":"flagBlue"},"mark":{"type":"point","shape":"square","filled":true,"color":"#5b9bb0","size":22,"opacity":0.9},"encoding":{"y":{"field":"p","type":"quantitative","title":null,"axis":{"orient":"right","values":[18,19,20,21,22,23,24,25,26,27,28,29,30,31,32,33],"format":".2f"}}}},
{"data":{"name":"flagStripes"},"mark":{"type":"rule","color":"#f23645","strokeWidth":1.2},"encoding":{"x2":{"field":"t2"},"y":{"field":"p","type":"quantitative","title":null,"axis":{"orient":"right","values":[18,19,20,21,22,23,24,25,26,27,28,29,30,31,32,33],"format":".2f"}}}}
]}
],
"resolve":{"scale":{"y":"independent"}}}
